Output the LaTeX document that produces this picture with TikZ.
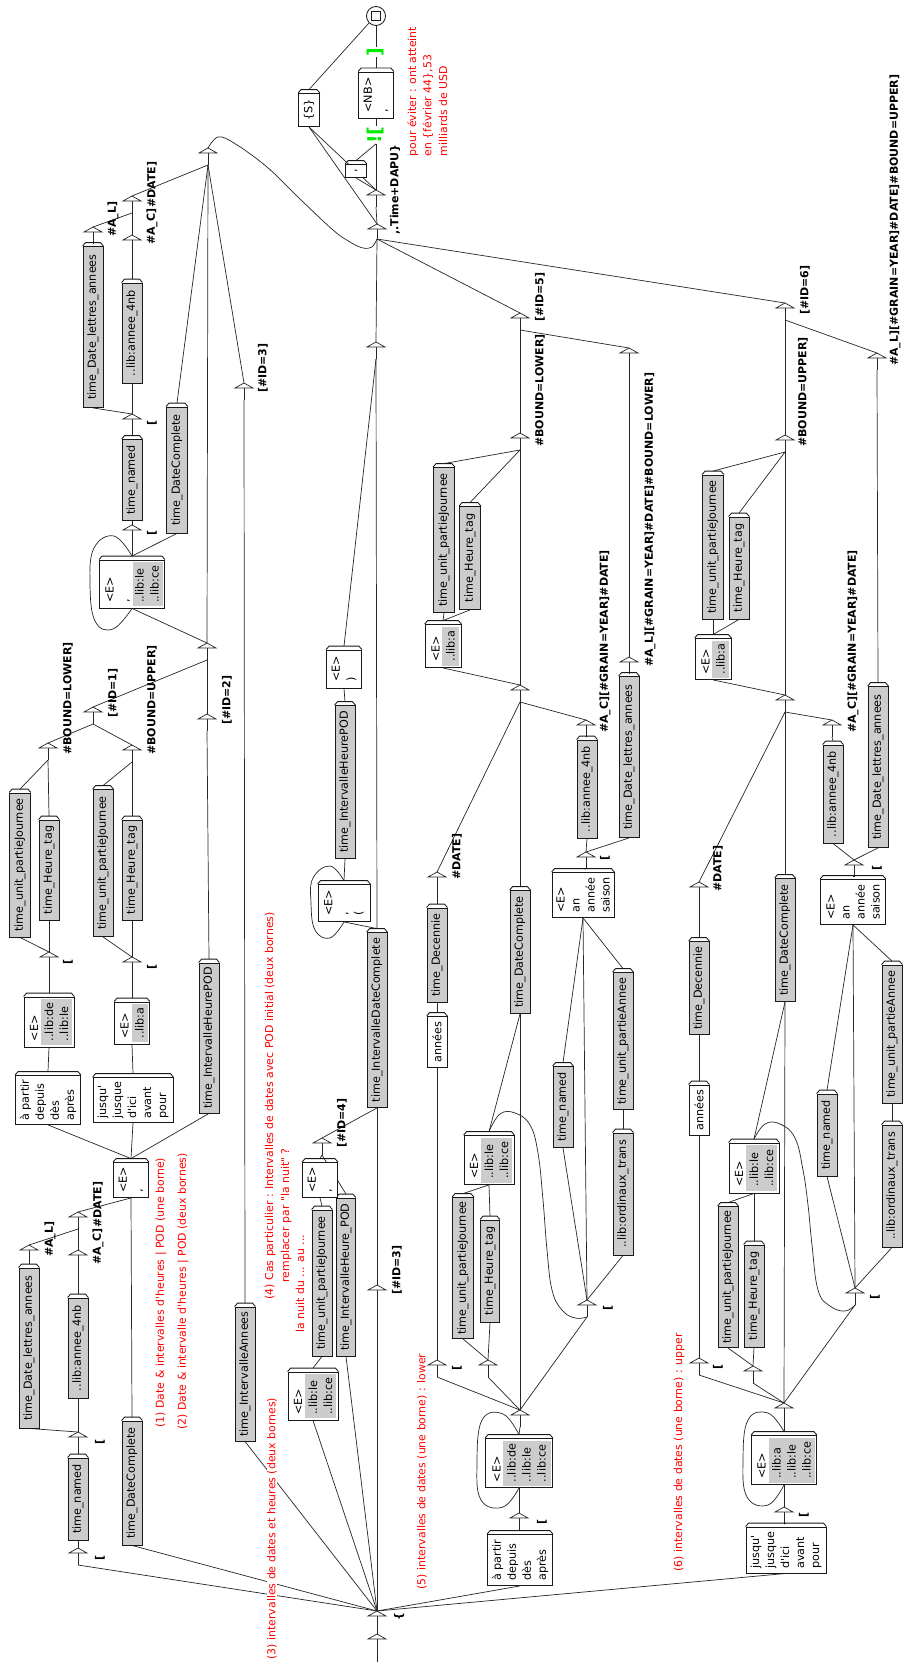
\documentclass[tikz,border=0pt]{standalone}
\usepackage{fontspec}
\newfontfamily\dv{DejaVu Sans}
\usetikzlibrary{calc}
\pgfdeclarelayer{bg}
\pgfsetlayers{bg,main}
\definecolor{gr}{RGB}{204,204,204}
\definecolor{grn}{RGB}{0,235,0}
\definecolor{rd}{RGB}{255,0,0}
\tikzset{
  ln/.style={line width=0.7pt, draw=black!85},
  bx/.style={line width=0.85pt, draw=black!90},
  ubox/.style={rotate=90, bx, fill=white, inner sep=0pt, align=left, font=\dv\fontsize{11.2}{15}\selectfont},
  gbox/.style={ubox, fill=gr},
  mbox/.style={rotate=90, bx, fill=none, inner sep=0pt, align=left, font=\dv\fontsize{11.2}{15}\selectfont},
  outl/.style={rotate=90, inner sep=0pt, font=\dv\fontsize{11}{13}\selectfont\bfseries},
  cmt/.style={rotate=90, anchor=west, inner sep=0.5pt, fill=white, text=rd, font=\dv\fontsize{10.9}{13}\selectfont},
  ctx/.style={rotate=90, inner sep=0pt, text=grn, font=\dv\fontsize{19}{20}\selectfont\bfseries},
}
\newcommand{\BX}[7]{%
  \node[#1, minimum width=#5pt, minimum height=#6pt] (#2) at (#3,#4) {#7};
  \draw[bx] (#2.north east) -- ++(3,-3.5) -- ($(#2.south east)+(-3,-3.5)$) -- (#2.south east);
  \coordinate (#2o) at ($(#2.east)+(0,-3.5)$);
}
\newcommand{\MX}[7]{%
  \fill[white] (#2-#5/2,#3-#4/2) rectangle (#2+#5/2,#3+#4/2);
  \fill[gr] (#2-#5/2+#7,#3-#4/2+2) rectangle (#2+#5/2-2,#3+#4/2-2);
  \node[mbox, minimum width=#4pt, minimum height=#5pt] (#1) at (#2,#3) {#6};
  \draw[bx] (#1.north east) -- ++(3,-3.5) -- ($(#1.south east)+(-3,-3.5)$) -- (#1.south east);
  \coordinate (#1o) at ($(#1.east)+(0,-3.5)$);
}
\newcommand{\EP}[4]{%
  \coordinate (#1) at (#2,#3);
  \coordinate (#1i) at (#2,#3+#4);
  \draw[ln] (#1i) -- (#1);
  \draw[ln, fill=white] (#2-9,#3+5) -- (#1) -- (#2+9,#3+5) -- cycle;
}
\begin{document}
\begin{tikzpicture}[x=1pt,y=-1pt]
\begin{pgfonlayer}{bg}
\fill[white] (0,0) rectangle (904,1662);
\end{pgfonlayer}
\useasboundingbox (0,0) rectangle (904,1662);

% ---------- spine ----------
\EP{init}{377}{1634}{28}
\EP{op}{377}{1611}{17}
\node[outl] at (399,1617) {\{};

% ---------- left branches ----------
\EP{L1}{78}{1548}{17} \node[outl] at (100,1558) {[};
\BX{gbox}{tn1}{78}{1499}{82}{20}{time\_named}
\EP{L2}{78}{1432}{17} \node[outl] at (100,1442) {[};
\BX{gbox}{an1}{78}{1348}{100}{20}{..lib:annee\_4nb}
\BX{gbox}{la1}{29}{1348}{160}{20}{time\_Date\_lettres\_annees}
\EP{ac1}{78}{1250}{17} \node[outl,anchor=west] at (98,1265) {\#A\_C]};
\EP{al1}{29}{1245}{17} \node[outl,anchor=west] at (50,1257) {\#A\_L]};
\EP{dt1}{78}{1212}{17} \node[outl,anchor=west] at (98,1228) {\#DATE]};
\BX{gbox}{dc1}{132}{1483}{124}{20}{time\_DateComplete}
\BX{ubox}{ec1}{131}{1180}{35}{35}{<E>\\,}
\BX{ubox}{ap1}{48}{1100}{49}{65}{à partir\\depuis\\dès\\après}
\BX{ubox}{ju1}{133}{1100}{45}{80}{jusqu'\\jusque\\d'ici\\avant\\pour}
\BX{gbox}{ihp1}{209}{1038}{150}{20}{time\_IntervalleHeurePOD}
\MX{de1}{49}{1022}{50}{50}{<E>\\..lib:de\\..lib:le}{17}
\MX{a1}{132}{1023}{42}{35}{<E>\\..lib:a}{17}
\EP{L3}{49}{952}{17} \node[outl] at (68,962) {[};
\EP{L4}{132}{957}{17} \node[outl] at (152,967) {[};
\BX{gbox}{pj1}{20}{865}{144}{21}{time\_unit\_partieJournee}
\BX{gbox}{ht1}{49}{870}{100}{20}{time\_Heure\_tag}
\BX{gbox}{pj2}{103}{863}{147}{20}{time\_unit\_partieJournee}
\BX{gbox}{ht2}{132}{870}{100}{20}{time\_Heure\_tag}
\EP{bl1}{48}{743}{17} \node[outl,anchor=west] at (68,755) {\#BOUND=LOWER]};
\EP{bu1}{132}{745}{17} \node[outl,anchor=west] at (152,755) {\#BOUND=UPPER]};
\EP{id1}{93}{707}{17} \node[outl,anchor=west] at (113,718) {[\#ID=1]};
\EP{id2}{207}{714}{17} \node[outl,anchor=west] at (227,725) {[\#ID=2]};
\EP{X}{207}{643}{17}
\MX{lp1}{132}{584}{48}{65}{<E>\\,\\..lib:le\\..lib:ce}{33}
\EP{L5}{132}{525}{17} \node[outl] at (152,533) {[};
\BX{gbox}{tn2}{132}{480}{81}{20}{time\_named}
\BX{gbox}{dc2}{177}{470}{126}{21}{time\_DateComplete}
\EP{L6}{132}{414}{17} \node[outl] at (152,423) {[};
\BX{gbox}{an2}{132}{333}{100}{20}{..lib:annee\_4nb}
\BX{gbox}{la2}{93}{327}{161}{20}{time\_Date\_lettres\_annees}
\EP{al2}{93}{227}{17} \node[outl,anchor=west] at (113,237) {\#A\_L]};
\EP{ac2}{132}{235}{17} \node[outl,anchor=west] at (152,245) {\#A\_C]};
\EP{dt2}{132}{196}{17} \node[outl,anchor=west] at (152,208) {\#DATE]};
\EP{h2}{208}{148}{17}
\BX{gbox}{ia}{245}{1374}{134}{20}{time\_IntervalleAnnees}
\EP{id3b}{244}{383}{17} \node[outl,anchor=west] at (263,393) {[\#ID=3]};

% ---------- centre (4) ----------
\EP{id3}{377}{1285}{17} \node[outl,anchor=west] at (397,1295) {[\#ID=3]};
\BX{gbox}{idc}{377}{1020}{175}{20}{time\_IntervalleDateComplete}
\MX{le4}{313}{1396}{48}{50}{<E>\\..lib:le\\..lib:ce}{17}
\BX{gbox}{pj4}{322}{1283}{146}{20}{time\_unit\_partieJournee}
\BX{gbox}{ih4}{346}{1277}{158}{19}{time\_IntervalleHeure\_POD}
\BX{ubox}{ec4}{320}{1180}{35}{35}{<E>\\,}
\EP{id4}{322}{1138}{17} \node[outl,anchor=west] at (342,1148) {[\#ID=4]};
\BX{ubox}{lp4}{344}{903}{37}{52}{<E>\\,\\(}
\BX{gbox}{ihp4}{345}{782}{153}{20}{time\_IntervalleHeurePOD}
\BX{ubox}{ep4}{344}{669}{38}{35}{<E>\\)}
\EP{ts}{376}{342}{17}

% ---------- top ----------
\EP{tt}{377}{224}{15} \node[outl,anchor=west] at (395,235) {,.Time+DAPU\}};
\EP{tx}{376}{190}{17}
\BX{ubox}{S}{309}{110}{33}{21}{\{S\}}
\BX{ubox}{cm}{356}{171}{13}{21}{,}
\node[ctx] (c1) at (376,135) {![};
\BX{ubox}{nb}{376}{95}{46}{35}{<NB>\\,}
\node[ctx] (c2) at (376,52) {]};
\node[circle, bx, fill=white, minimum size=19pt, inner sep=0pt] (fin) at (376,16) {};
\draw[bx] (371.5,11.5) rectangle (380.5,20.5);

% ---------- branch (5) ----------
\EP{id5}{520}{313}{17} \node[outl,anchor=west] at (540,322) {[\#ID=5]};
\EP{bl5}{520}{433}{17} \node[outl,anchor=west] at (540,447) {\#BOUND=LOWER]};
\EP{tp5}{629}{348}{17}
\BX{gbox}{pj5}{444}{540}{145}{21}{time\_unit\_partieJournee}
\BX{gbox}{ht5}{470}{558}{103}{21}{time\_Heure\_tag}
\MX{a5}{443}{646}{43}{36}{<E>\\..lib:a}{17}
\EP{e5}{520}{685}{17}
\EP{ac5}{586}{720}{17} \node[outl,anchor=west] at (605,733) {\#A\_C][\#GRAIN=YEAR]\#DATE]};
\BX{gbox}{an5}{587}{789}{98}{20}{..lib:annee\_4nb}
\BX{gbox}{la5}{629}{757}{161}{20}{time\_Date\_lettres\_annees}
\EP{al5}{629}{657}{17} \node[outl,anchor=west] at (650,667) {\#A\_L][\#GRAIN=YEAR]\#DATE]\#BOUND=LOWER]};
\EP{R5a}{586}{852}{17} \node[outl] at (605,858) {[};
\BX{ubox}{as5}{583}{895}{45}{62}{<E>\\an\\année\\saison}
\EP{dt5}{437}{872}{17} \node[outl,anchor=west] at (457,880) {\#DATE]};
\BX{gbox}{dec5}{437}{955}{94}{20}{time\_Decennie}
\BX{ubox}{ann5}{437}{1042}{51}{20}{années}
\BX{gbox}{dc5}{520}{952}{123}{20}{time\_DateComplete}
\BX{gbox}{tn5}{563}{1107}{81}{20}{time\_named}
\BX{gbox}{pa5}{623}{1041}{137}{20}{time\_unit\_partieAnnee}
\BX{gbox}{or5}{623}{1194}{122}{20}{..lib:ordinaux\_trans}
\EP{R5b}{587}{1300}{17} \node[outl] at (608,1308) {[};
\MX{le5}{489}{1160}{49}{50}{<E>\\..lib:le\\..lib:ce}{17}
\BX{gbox}{pj5b}{463}{1268}{141}{21}{time\_unit\_partieJournee}
\BX{gbox}{ht5b}{490}{1271}{102}{19}{time\_Heure\_tag}
\EP{R5c}{437}{1360}{17} \node[outl] at (457,1368) {[};
\EP{e5b}{488}{1360}{17}
\EP{h5}{520}{1410}{17}
\MX{lp5}{519}{1463}{49}{67}{<E>\\..lib:de\\..lib:le\\..lib:ce}{17}
\EP{R5d}{519}{1513}{17} \node[outl] at (542,1522) {[};
\BX{ubox}{ap5}{520}{1560}{51}{65}{à partir\\depuis\\dès\\après}

% ---------- branch (6) ----------
\EP{id6}{785}{303}{17} \node[outl,anchor=west] at (805,315) {[\#ID=6]};
\EP{tp6}{877}{353}{17} \node[outl,anchor=west] at (895,366) {\#A\_L][\#GRAIN=YEAR]\#DATE]\#BOUND=UPPER]};
\EP{bu6}{785}{435}{17} \node[outl,anchor=west] at (803,447) {\#BOUND=UPPER]};
\BX{gbox}{pj6}{713}{547}{144}{21}{time\_unit\_partieJournee}
\BX{gbox}{ht6}{739}{568}{102}{20}{time\_Heure\_tag}
\MX{a6}{713}{659}{41}{36}{<E>\\..lib:a}{17}
\EP{e6}{785}{695}{17}
\EP{ac6}{832}{720}{17} \node[outl,anchor=west] at (853,733) {\#A\_C][\#GRAIN=YEAR]\#DATE]};
\BX{gbox}{an6}{833}{794}{98}{20}{..lib:annee\_4nb}
\BX{gbox}{la6}{878}{767}{161}{20}{time\_Date\_lettres\_annees}
\EP{R6a}{854}{860}{17} \node[outl] at (877,868) {[};
\BX{ubox}{as6}{853}{902}{45}{65}{<E>\\an\\année\\saison}
\EP{dt6}{699}{882}{17} \node[outl,anchor=west] at (718,892) {\#DATE]};
\BX{gbox}{dec6}{699}{988}{93}{20}{time\_Decennie}
\BX{ubox}{ann6}{699}{1110}{50}{20}{années}
\BX{gbox}{dc6}{785}{940}{123}{20}{time\_DateComplete}
\BX{gbox}{tn6}{827}{1135}{82}{20}{time\_named}
\BX{gbox}{pa6}{892}{1034}{138}{20}{time\_unit\_partieAnnee}
\BX{gbox}{or6}{892}{1186}{122}{20}{..lib:ordinaux\_trans}
\EP{R6b}{855}{1288}{17} \node[outl] at (875,1297) {[};
\MX{le6}{754}{1168}{50}{50}{<E>\\..lib:le\\..lib:ce}{17}
\BX{gbox}{pj6b}{728}{1277}{141}{20}{time\_unit\_partieJournee}
\BX{gbox}{ht6b}{754}{1296}{102}{20}{time\_Heure\_tag}
\EP{R6c}{699}{1358}{17} \node[outl] at (718,1367) {[};
\EP{e6b}{753}{1366}{17}
\EP{h6}{784}{1403}{17}
\MX{lp6}{784}{1460}{49}{65}{<E>\\..lib:a\\..lib:le\\..lib:ce}{17}
\EP{R6d}{784}{1507}{17} \node[outl] at (804,1515) {[};
\BX{ubox}{ju6}{786}{1550}{46}{80}{jusqu'\\jusque\\d'ici\\avant\\pour}

% ---------- comments (white background, over the lines) ----------
\node[cmt] at (161,1428) {(1) Date \& intervalles d'heures | POD (une borne)};
\node[cmt] at (183,1430) {(2) Date \& intervalle d'heures | POD (deux bornes)};
\node[cmt] at (272,1660) {(3) intervalles de dates et heures (deux bornes)};
\node[cmt] at (270,1300) {(4) Cas particulier : Intervalles de dates avec POD initial (deux bornes)};
\node[cmt] at (286,1283) {remplacer par "la nuit" ?};
\node[cmt] at (300,1333) {la nuit du ... au ...};
\node[cmt] at (422,1590) {(5) intervalles de dates (une borne) : lower};
\node[cmt] at (679,1572) {(6) intervalles de dates (une borne) : upper};
\node[cmt] at (413,157) {pour éviter : ont atteint};
\node[cmt] at (428,157) {en \{février 44\},53};
\node[cmt] at (443,157) {milliards de USD};

% ================= connectors (behind the boxes) =================
\begin{pgfonlayer}{bg}
\draw[ln] (init) -- (opi);
% left
\draw[ln] (op) -- (L1i);
\draw[ln] (L1) -- (tn1.west);
\draw[ln] (tn1o) -- (L2i);
\draw[ln] (L2) -- (an1.west);
\draw[ln] (L2) -- (la1.west);
\draw[ln] (an1o) -- (ac1i);
\draw[ln] (la1o) -- (al1i);
\draw[ln] (ac1) -- (dt1i);
\draw[ln] (al1) -- (dt1i);
\draw[ln] (op) -- (dc1.west);
\draw[ln] (dt1) -- (ec1.west);
\draw[ln] (dc1o) -- (ec1.west);
\draw[ln] (ec1o) -- (ap1.west);
\draw[ln] (ec1o) -- (ju1.west);
\draw[ln] (ec1o) -- (ihp1.west);
\draw[ln] (ap1o) -- (de1.west);
\draw[ln] (ju1o) -- (a1.west);
\draw[ln] (de1o) -- (L3i);
\draw[ln] (a1o) -- (L4i);
\draw[ln] (L3) -- (pj1.west);
\draw[ln] (L3) -- (ht1.west);
\draw[ln] (L4) -- (pj2.west);
\draw[ln] (L4) -- (ht2.west);
\draw[ln] (pj1o) -- (bl1i);
\draw[ln] (ht1o) -- (bl1i);
\draw[ln] (pj2o) -- (bu1i);
\draw[ln] (ht2o) -- (bu1i);
\draw[ln] (bl1) -- (id1i);
\draw[ln] (bu1) -- (id1i);
\draw[ln] (ihp1o) -- (id2i);
\draw[ln] (id1) -- (Xi);
\draw[ln] (id2) -- (Xi);
\draw[ln] (X) -- (lp1.west);
\draw[ln] (X) -- (h2i);
\draw[ln] plot[smooth, tension=0.7] coordinates {(lp1o) (114,536) (94,548) (90,583) (95,621) (113,629) (lp1.west)};
\draw[ln] (lp1o) -- (L5i);
\draw[ln] (L5) -- (tn2.west);
\draw[ln] (lp1o) -- (dc2.west);
\draw[ln] (tn2o) -- (L6i);
\draw[ln] (L6) -- (an2.west);
\draw[ln] (L6) -- (la2.west);
\draw[ln] (la2o) -- (al2i);
\draw[ln] (an2o) -- (ac2i);
\draw[ln] (al2) -- (dt2i);
\draw[ln] (ac2) -- (dt2i);
\draw[ln] (dt2) -- (h2i);
\draw[ln] (dc2o) -- (h2i);
\draw[ln] (op) -- (ia.west);
\draw[ln] (iao) -- (id3bi);
\draw[ln] (id3b) -- (h2i);
\draw[ln] plot[smooth, tension=0.6] coordinates {(h2) (218,137) (234,143) (267,167) (300,199) (333,230) (350,242) (363,248) (372,247) (tti)};
% centre
\draw[ln] (op) -- (id3i);
\draw[ln] (id3) -- (idc.west);
\draw[ln] (op) -- (le4.west);
\draw[ln] (le4o) -- (pj4.west);
\draw[ln] (pj4o) -- (ec4.west);
\draw[ln] (ec4o) -- (id4i);
\draw[ln] (op) -- (ih4.west);
\draw[ln] (ih4o) -- (id4i);
\draw[ln] (id4) -- (idc.west);
\draw[ln] (idco) -- (tsi);
\draw[ln] (idco) -- (lp4.west);
\draw[ln] plot[smooth, tension=0.7] coordinates {(lp4o) (330,866) (313,878) (311,903) (315,930) (330,938) (lp4.west)};
\draw[ln] (lp4o) -- (ihp4.west);
\draw[ln] (ihp4o) -- (ep4.west);
\draw[ln] (ep4o) -- (tsi);
\draw[ln] (ts) -- (tti);
% top
\draw[ln] (tt) -- (txi);
\draw[ln] (tt) -- (S.west);
\draw[ln] (tx) -- (S.west);
\draw[ln] (tx) -- (cm.west);
\draw[ln] (tx) -- (c1.west);
\draw[ln] (cmo) -- (c1.west);
\draw[ln] (c1.east) -- (nb.west);
\draw[ln] (nbo) -- (c2.west);
\draw[ln] (c2.east) -- (fin.south);
\draw[ln] (So) -- (fin.225);
% (5)
\draw[ln] (op) -- (ap5.west);
\draw[ln] (ap5o) -- (R5di);
\draw[ln] (R5d) -- (lp5.west);
\draw[ln] plot[smooth, tension=0.7] coordinates {(lp5o) (503,1414) (482,1420) (477,1463) (481,1500) (503,1507) (lp5.west)};
\draw[ln] (lp5o) -- (h5i);
\draw[ln] (h5) -- (R5ci);
\draw[ln] (h5) -- (e5bi);
\draw[ln] (h5) -- (R5bi);
\draw[ln] (h5) -- (dc5.west);
\draw[ln] (R5c) -- (ann5.west);
\draw[ln] (ann5o) -- (dec5.west);
\draw[ln] (dec5o) -- (dt5i);
\draw[ln] (dt5) -- (e5i);
\draw[ln] (e5b) -- (pj5b.west);
\draw[ln] (e5b) -- (ht5b.west);
\draw[ln] (pj5bo) -- (le5.west);
\draw[ln] (ht5bo) -- (le5.west);
\draw[ln] (le5o) -- (dc5.west);
\draw[ln] plot[smooth, tension=0.7] coordinates {(le5o) (500,1114) (515,1113) (530,1125) (538,1153) (543,1200) (547,1250) (552,1290) (562,1310) (575,1318) (R5bi)};
\draw[ln] (dc5o) -- (e5i);
\draw[ln] (R5b) -- (as5.west);
\draw[ln] (R5b) -- (tn5.west);
\draw[ln] (R5b) -- (or5.west);
\draw[ln] (tn5o) -- (as5.west);
\draw[ln] (or5o) -- (pa5.west);
\draw[ln] (pa5o) -- (as5.west);
\draw[ln] (as5o) -- (R5ai);
\draw[ln] (R5a) -- (an5.west);
\draw[ln] (R5a) -- (la5.west);
\draw[ln] (an5o) -- (ac5i);
\draw[ln] (ac5) -- (e5i);
\draw[ln] (la5o) -- (al5i);
\draw[ln] (al5) -- (tp5i);
\draw[ln] (e5) -- (a5.west);
\draw[ln] (e5) -- (bl5i);
\draw[ln] (a5o) -- (pj5.west);
\draw[ln] (a5o) -- (ht5.west);
\draw[ln] (pj5o) -- (bl5i);
\draw[ln] (ht5o) -- (bl5i);
\draw[ln] (bl5) -- (id5i);
\draw[ln] (tp5) -- (id5i);
\draw[ln] (id5) -- (tti);
% (6)
\draw[ln] (op) -- (ju6.west);
\draw[ln] (ju6o) -- (R6di);
\draw[ln] (R6d) -- (lp6.west);
\draw[ln] plot[smooth, tension=0.7] coordinates {(lp6o) (768,1413) (748,1420) (743,1460) (747,1497) (768,1505) (lp6.west)};
\draw[ln] (lp6o) -- (h6i);
\draw[ln] (h6) -- (R6ci);
\draw[ln] (h6) -- (e6bi);
\draw[ln] (h6) -- (R6bi);
\draw[ln] (h6) -- (dc6.west);
\draw[ln] (R6c) -- (ann6.west);
\draw[ln] (ann6o) -- (dec6.west);
\draw[ln] (dec6o) -- (dt6i);
\draw[ln] (dt6) -- (e6i);
\draw[ln] (e6b) -- (pj6b.west);
\draw[ln] (e6b) -- (ht6b.west);
\draw[ln] (pj6bo) -- (le6.west);
\draw[ln] (ht6bo) -- (le6.west);
\draw[ln] (le6o) -- (dc6.west);
\draw[ln] plot[smooth, tension=0.7] coordinates {(le6o) (765,1124) (780,1124) (795,1138) (803,1170) (808,1205) (812,1245) (818,1290) (830,1306) (845,1311) (R6bi)};
\draw[ln] (dc6o) -- (e6i);
\draw[ln] (R6b) -- (as6.west);
\draw[ln] (R6b) -- (tn6.west);
\draw[ln] (R6b) -- (or6.west);
\draw[ln] (tn6o) -- (as6.west);
\draw[ln] (or6o) -- (pa6.west);
\draw[ln] (pa6o) -- (as6.west);
\draw[ln] (as6o) -- (R6ai);
\draw[ln] (R6a) -- (an6.west);
\draw[ln] (R6a) -- (la6.west);
\draw[ln] (an6o) -- (ac6i);
\draw[ln] (ac6) -- (e6i);
\draw[ln] (la6o) -- (tp6i);
\draw[ln] (e6) -- (a6.west);
\draw[ln] (e6) -- (bu6i);
\draw[ln] (a6o) -- (pj6.west);
\draw[ln] (a6o) -- (ht6.west);
\draw[ln] (pj6o) -- (bu6i);
\draw[ln] (ht6o) -- (bu6i);
\draw[ln] (bu6) -- (id6i);
\draw[ln] (tp6) -- (id6i);
\draw[ln] (id6) -- (tti);
\end{pgfonlayer}
\end{tikzpicture}
\end{document}
